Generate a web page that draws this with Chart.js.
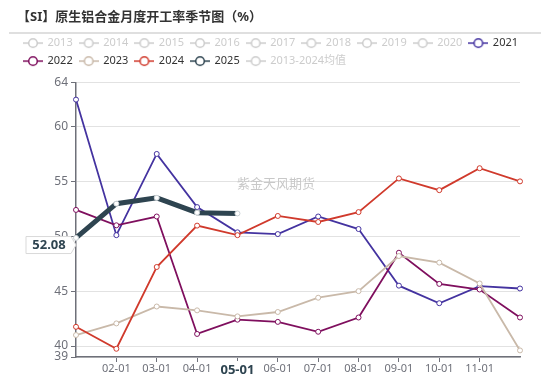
<!DOCTYPE html>
<html>
<head>
<meta charset="utf-8">
<script src="https://cdn.jsdelivr.net/npm/chart.js@4.4.1/dist/chart.umd.min.js"></script>
<style>
  html, body { margin: 0; padding: 0; background: #fff; }
  #wrap { width: 550px; height: 378px; }
</style>
</head>
<body>
<div id="wrap"><canvas id="season_chart" width="550" height="378"></canvas></div>
<script>
// month labels on the x axis
const months = ['01-01', '02-01', '03-01', '04-01', '05-01', '06-01',
                '07-01', '08-01', '09-01', '10-01', '11-01', '12-01'];

// values
const y2021 = [62.45, 50.1, 57.5, 52.66, 50.36, 50.2, 51.8, 50.66, 45.5, 43.9, 45.45, 45.24];
const y2022 = [52.4, 51.0, 51.8, 41.1, 42.4, 42.2, 41.3, 42.6, 48.5, 45.66, 45.15, 42.6];
const y2023 = [41.0, 42.06, 43.6, 43.25, 42.7, 43.1, 44.4, 45.0, 48.2, 47.6, 45.7, 39.6];
const y2024 = [41.75, 39.75, 47.2, 50.97, 50.1, 51.85, 51.3, 52.2, 55.27, 54.2, 56.2, 55.0];
const y2025 = [49.85, 52.97, 53.5, 52.15, 52.08, null, null, null, null, null, null, null];

const yTicks = [39, 40, 45, 50, 55, 60, 64];

// series that are switched off in the legend
const offSeries = ['2013', '2014', '2015', '2016', '2017', '2018', '2019', '2020'];
const avgLabel = '2013-2024均值';
const latestValue = '52.08';

const FONT = "'Noto Sans', 'Noto Sans CJK SC', sans-serif";
const GREY = '#cccccc';
const AXIS = '#6e7079';

// little "-o-" icon like the original legend
function legendIcon(color) {
  const c = document.createElement('canvas');
  c.width = 20;
  c.height = 12;
  const g = c.getContext('2d');
  g.strokeStyle = color;
  g.lineWidth = 1.5;
  g.beginPath();
  g.moveTo(0, 6);
  g.lineTo(20, 6);
  g.stroke();
  g.beginPath();
  g.arc(10, 6, 4.3, 0, Math.PI * 2);
  g.fillStyle = '#fff';
  g.fill();
  g.stroke();
  return c;
}

function lineSet(label, data, color, width, order) {
  return {
    label: label,
    data: data,
    borderColor: color,
    backgroundColor: '#fff',
    borderWidth: width,
    pointRadius: 2.5,
    pointBorderWidth: 1,
    pointBackgroundColor: '#fff',
    pointBorderColor: width > 3 ? '#c9d0d4' : color,
    tension: 0,
    spanGaps: false,
    order: order
  };
}

const shown = [
  lineSet('2021', y2021, '#4433a0', 1.8, 4),
  lineSet('2022', y2022, '#7f0f5e', 1.8, 3),
  lineSet('2023', y2023, '#c9b9a9', 1.8, 2),
  lineSet('2024', y2024, '#d03a2c', 1.8, 1),
  lineSet('2025', y2025, '#2e4450', 5, 0)
];

// legend order as in the picture
const legendOrder = offSeries.map(t => ({text: t, color: GREY, off: true}))
  .concat([
    {text: '2021', color: '#4433a0'},
    {text: '2022', color: '#7f0f5e'},
    {text: '2023', color: '#c9b9a9'},
    {text: '2024', color: '#d03a2c'},
    {text: '2025', color: '#2e4450'},
    {text: avgLabel, color: GREY, off: true}
  ]);

// title underline, watermark and the pointer label
const decorations = {
  id: 'decorations',
  beforeDatasetsDraw(chart) {
    const ctx = chart.ctx;
    ctx.save();
    ctx.font = '13px ' + FONT;
    ctx.fillStyle = '#c8c8c8';
    ctx.textAlign = 'center';
    ctx.textBaseline = 'middle';
    ctx.fillText('紫金天风期货', 276, 184);
    ctx.restore();
  },
  afterDraw(chart) {
    const ctx = chart.ctx;
    ctx.save();
    ctx.strokeStyle = '#d4d4d4';
    ctx.lineWidth = 1.5;
    ctx.beginPath();
    ctx.moveTo(9, 33);
    ctx.lineTo(541, 33);
    ctx.stroke();

    const yScale = chart.scales.y;
    const ax = chart.chartArea.left;
    const cy = yScale.getPixelForValue(49.2);
    ctx.beginPath();
    ctx.moveTo(26, cy - 8.5);
    ctx.lineTo(ax - 5, cy - 8.5);
    ctx.lineTo(ax, cy);
    ctx.lineTo(ax - 5, cy + 8.5);
    ctx.lineTo(26, cy + 8.5);
    ctx.closePath();
    ctx.fillStyle = '#fff';
    ctx.fill();
    ctx.strokeStyle = '#d9d9d9';
    ctx.lineWidth = 1;
    ctx.stroke();
    ctx.font = 'bold 13px ' + FONT;
    ctx.fillStyle = '#2e4450';
    ctx.textAlign = 'center';
    ctx.textBaseline = 'middle';
    ctx.fillText(latestValue, 49, cy + 0.5);
    ctx.restore();
  }
};

const ctx_season = document.getElementById('season_chart');

new Chart(ctx_season, {
  type: 'line',
  data: {
    labels: months,
    datasets: shown
  },
  plugins: [decorations],
  options: {
    responsive: false,
    animation: false,
    layout: {
      padding: {left: 17, right: 8, top: 0, bottom: 0}
    },
    plugins: {
      title: {
        display: true,
        text: '【SI】原生铝合金月度开工率季节图（%）',
        align: 'start',
        color: '#333',
        font: {family: FONT, size: 13, weight: 'bold'},
        padding: {top: 9, bottom: 6}
      },
      legend: {
        display: true,
        align: 'start',
        labels: {
          usePointStyle: true,
          pointStyleWidth: 18,
          boxHeight: 11,
          padding: 7,
          font: {family: FONT, size: 11},
          generateLabels: () => legendOrder.map(item => ({
            text: item.text,
            fillStyle: '#fff',
            strokeStyle: item.color,
            fontColor: item.off ? GREY : '#333',
            lineWidth: 0,
            hidden: false,
            pointStyle: legendIcon(item.color)
          }))
        },
        onClick: () => {}
      },
      tooltip: {enabled: false}
    },
    scales: {
      x: {
        type: 'category',
        offset: false,
        border: {display: true, color: AXIS, width: 1.5},
        grid: {
          drawOnChartArea: false,
          drawTicks: true,
          tickLength: 5,
          color: AXIS,
          tickColor: (c) => (c.index === 0 || c.index === 11) ? 'rgba(0,0,0,0)' : AXIS
        },
        ticks: {
          autoSkip: false,
          maxRotation: 0,
          padding: 0,
          callback: function (value, index) {
            return (index === 0 || index === 11) ? '' : this.getLabelForValue(value);
          },
          font: (c) => c.index === 4
            ? {family: FONT, size: 13, weight: 'bold'}
            : {family: FONT, size: 11},
          color: (c) => c.index === 4 ? '#2e4450' : AXIS,
          showLabelBackdrop: (c) => c.index === 4,
          backdropColor: '#fff',
          backdropPadding: {left: 6, right: 6, top: 1, bottom: 1}
        },
        afterFit: (scale) => { scale.height = 21; }
      },
      xTop: {
        position: 'top',
        display: true,
        border: {display: false},
        grid: {display: false},
        ticks: {display: false},
        afterFit: (scale) => { scale.height = 6; }
      },
      y: {
        type: 'linear',
        min: 39,
        max: 64,
        border: {display: true, color: AXIS, width: 1.5},
        grid: {
          color: '#e2e2e2',
          lineWidth: 1,
          tickColor: AXIS,
          tickLength: 5
        },
        ticks: {
          padding: 3,
          color: AXIS,
          font: {family: FONT, size: 12}
        },
        afterBuildTicks: (scale) => {
          scale.ticks = yTicks.map(v => ({value: v}));
        },
        afterFit: (scale) => { scale.width = 59; }
      },
      yRight: {
        position: 'right',
        display: true,
        border: {display: false},
        grid: {display: false},
        ticks: {display: false},
        afterFit: (scale) => { scale.width = 22; }
      }
    }
  }
});
</script>
</body>
</html>
